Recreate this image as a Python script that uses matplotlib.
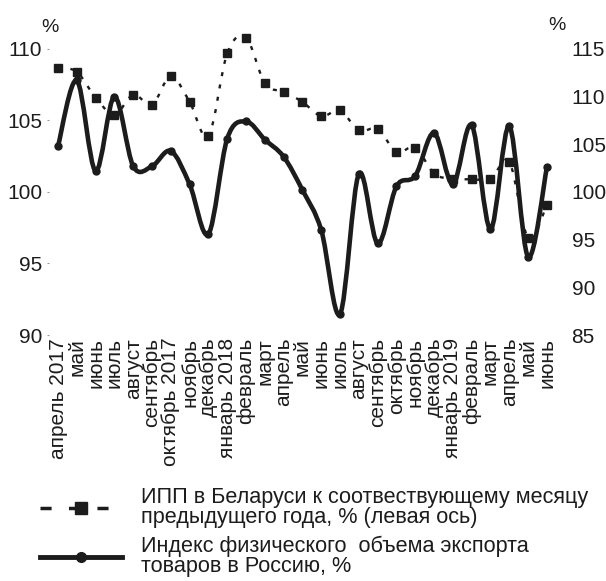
import matplotlib
matplotlib.use("Agg")
import matplotlib.pyplot as plt
from matplotlib.path import Path
from matplotlib.patches import PathPatch
from matplotlib.lines import Line2D
import numpy as np

plt.rcParams['font.family'] = ['Liberation Sans', 'DejaVu Sans']

months = ["апрель 2017", "май", "июнь", "июль", "август", "сентябрь",
          "октябрь 2017", "ноябрь", "декабрь", "январь 2018", "февраль",
          "март", "апрель", "май", "июнь", "июль", "август", "сентябрь",
          "октябрь", "ноябрь", "декабрь", "январь 2019", "февраль", "март",
          "апрель", "май", "июнь"]

# ИПП, left axis
ipp = [108.7, 108.4, 106.6, 105.4, 106.8, 106.1, 108.1, 106.3, 103.9,
       109.7, 110.8, 107.6, 107.0, 106.3, 105.3, 105.7, 104.3, 104.4,
       102.8, 103.1, 101.3, 100.9, 100.9, 100.9, 102.1, 96.8, 99.1]

# export index, right axis
export = [104.8, 111.7, 102.2, 110.0, 102.7, 102.7, 104.3, 100.8, 95.6,
          105.6, 107.4, 105.5, 103.7, 100.2, 96.0, 87.2, 101.9, 94.6,
          100.6, 101.7, 106.2, 100.8, 107.0, 96.1, 106.9, 93.2, 102.6]

ink = "#1c1c1c"


def smooth_path(xs, ys):
    pts = np.column_stack([xs, ys]).astype(float)
    n = len(pts)
    verts = [pts[0]]
    codes = [Path.MOVETO]
    for i in range(n - 1):
        p0 = pts[i - 1] if i > 0 else pts[i]
        p1, p2 = pts[i], pts[i + 1]
        p3 = pts[i + 2] if i + 2 < n else pts[i + 1]
        verts += [p1 + (p2 - p0) / 6, p2 - (p3 - p1) / 6, p2]
        codes += [Path.CURVE4] * 3
    return Path(verts, codes)


fig = plt.figure(figsize=(6.06, 5.81), dpi=100)
ax = fig.add_axes([0.0802, 0.4234, 0.8378, 0.4923])
ax2 = ax.twinx()

x = np.arange(len(months))

ax.add_patch(PathPatch(smooth_path(x, ipp), fill=False, edgecolor=ink,
                       lw=1.7, linestyle=(0, (1.7, 3.6)), clip_on=False))
ax.plot(x, ipp, ls='none', marker='s', ms=6.2, color=ink, clip_on=False)

ax2.add_patch(PathPatch(smooth_path(x, export), fill=False, edgecolor=ink,
                        lw=3.3, capstyle='round', joinstyle='round',
                        clip_on=False))
ax2.plot(x, export, ls='none', marker='o', ms=5, color=ink, clip_on=False)

ax.set_xlim(-0.5, len(months) - 0.5)
ax.set_ylim(90, 110)
ax2.set_ylim(85, 115)
ax.set_yticks([90, 95, 100, 105, 110])
ax2.set_yticks([85, 90, 95, 100, 105, 110, 115])
ax.set_xticks(x)
ax.set_xticklabels(months, rotation=90, fontsize=15, color=ink)

for a in (ax, ax2):
    for s in a.spines.values():
        s.set_visible(False)
ax.tick_params(axis='y', length=1.5, width=0.8, color='#999999', pad=3,
               labelsize=15, labelcolor=ink)
ax2.tick_params(axis='y', length=0, pad=11, labelsize=15, labelcolor=ink)
ax.tick_params(axis='x', length=0, pad=2)

fig.text(50 / 606, 1 - 27 / 581, "%", fontsize=14, color=ink,
         ha='center', va='center')
fig.text(557 / 606, 1 - 25 / 581, "%", fontsize=14, color=ink,
         ha='center', va='center')

h1 = Line2D([], [], color=ink, lw=2.5, ls=(0, (3.2, 5)), marker='s',
            ms=8)
h2 = Line2D([], [], color=ink, lw=3.5, marker='o', ms=7)
leg = fig.legend([h1, h2],
                 ["ИПП в Беларуси к соотвествующему месяцу\n"
                  "предыдущего года, % (левая ось)",
                  "Индекс физического  объема экспорта\n"
                  "товаров в Россию, %"],
                 loc='upper left', bbox_to_anchor=(40 / 606, 1 - 487 / 581),
                 frameon=False, fontsize=15.6, handlelength=3.8,
                 handletextpad=0.85, labelspacing=0.35, borderpad=0,
                 borderaxespad=0)
for t in leg.get_texts():
    t.set_linespacing(0.95)
    t.set_color(ink)

fig.savefig("out.png", dpi=100)
